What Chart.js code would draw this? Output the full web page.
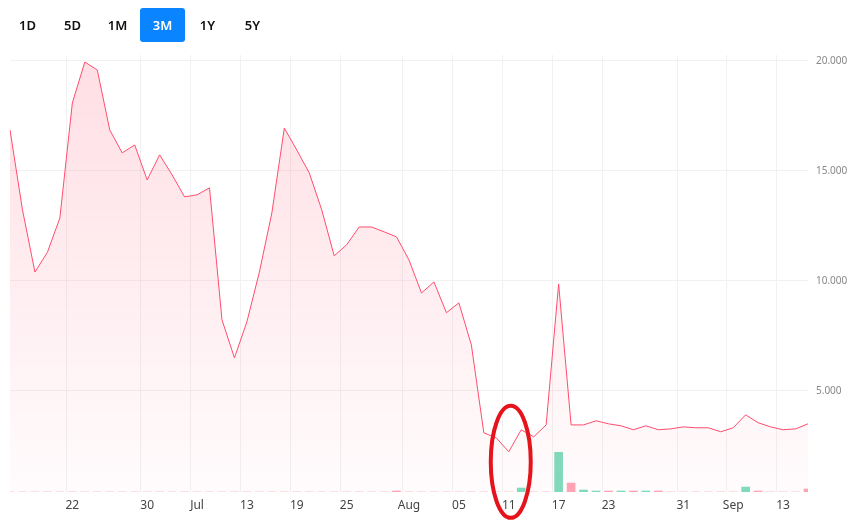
<!DOCTYPE html>
<html>
<head>
<meta charset="utf-8">
<script src="https://cdn.jsdelivr.net/npm/chart.js@4"></script>
<style>
  body { margin: 0; width: 868px; height: 520px; background: #fff; font-family: "Noto Sans", sans-serif; position: relative; overflow: hidden; }
  .ranges { position: absolute; left: 5px; top: 8px; display: flex; z-index: 2; }
  .ranges span { width: 45px; height: 34px; line-height: 34px; text-align: center; font-size: 13px; font-weight: 600; color: #111; border-radius: 3px; }
  .ranges span.on { background: #0a84ff; color: #fff; }
  #wrap { position: absolute; left: 0; top: 0; width: 868px; height: 520px; }
</style>
</head>
<body>
<div class="ranges"><span>1D</span><span>5D</span><span>1M</span><span class="on">3M</span><span>1Y</span><span>5Y</span></div>
<div id="wrap"><canvas id="chart"></canvas></div>
<script>
  // one entry per trading day, label only where an axis tick is shown
  const labels = ['', '', '', '', '', '22', '', '', '', '', '', '30', '', '', '', 'Jul', '', '', '', '13', '', '', '', '19', '', '', '', '25', '', '', '', '', 'Aug', '', '', '', '05', '', '', '', '11', '', '', '', '17', '', '', '', '23', '', '', '', '', '', '31', '', '', '', 'Sep', '', '', '', '13', '', ''];
  const prices = [16860, 13230, 10400, 11300, 12860, 18090, 19950, 19590, 16860, 15820, 16180, 14590, 15730, 14820, 13820, 13910, 14230, 8230, 6500, 8140, 10400, 13090, 16950, 15950, 14910, 13230, 11140, 11640, 12450, 12450, 12230, 12000, 10950, 9450, 9950, 8550, 9000, 7090, 3090, 2860, 2230, 3230, 2910, 3450, 9860, 3450, 3450, 3640, 3500, 3410, 3230, 3410, 3230, 3270, 3360, 3320, 3320, 3140, 3320, 3910, 3550, 3360, 3230, 3270, 3500];
  const volumes = [0, 0, 0, 0, 0, 0, 0, 0, 0, 0, 0, 0, 0, 0, 0, 0, 0, 0, 0, 0, 0, 0, 0, 0, 0, 0, 0, 0, 0, 0, 0, 1, 0, 0, 0, 0, 0, 0, 0, 0, 0, 4, 0, 0, 40, 9, 2, 1, 1, 1, 1, 1, 1, 0, 0, 0, 0, 0, 0, 5, 1, 0, 0, 0, 3];
  const volumeUp = [false, false, false, false, false, false, false, false, false, false, false, false, false, false, false, false, false, false, false, false, false, false, false, false, false, false, false, false, false, false, false, false, false, false, false, false, false, false, false, false, false, true, false, false, true, false, true, true, false, true, false, true, false, false, false, false, false, false, false, true, false, false, false, false, false];
  const priceTicks = [5000, 10000, 15000, 20000];
  const circledIndex = 40;

  const circleMark = {
    id: 'circleMark',
    afterDatasetsDraw(chart) {
      const { ctx, scales } = chart;
      const cx = scales.x.getPixelForValue(circledIndex) + 2;
      const cy = scales.y.getPixelForValue(1770);
      ctx.save();
      ctx.strokeStyle = '#e5141c';
      ctx.lineWidth = 4;
      ctx.beginPath();
      ctx.ellipse(cx, cy, 20, 56, 0, 0, Math.PI * 2);
      ctx.stroke();
      ctx.restore();
    }
  };

  const ctx = document.getElementById('chart');
  new Chart(ctx, {
    data: {
      labels,
      datasets: [{
        type: 'line',
        data: prices,
        yAxisID: 'y',
        borderColor: '#ff4d6d',
        borderWidth: 1,
        pointRadius: 0,
        tension: 0,
        fill: 'start',
        backgroundColor: (c) => {
          const area = c.chart.chartArea;
          if (!area) return 'rgba(255,90,120,0.15)';
          const g = c.chart.ctx.createLinearGradient(0, area.top, 0, area.bottom);
          g.addColorStop(0, 'rgba(255,90,120,0.2)');
          g.addColorStop(1, 'rgba(255,90,120,0.02)');
          return g;
        },
        order: 1,
      }, {
        type: 'bar',
        data: volumes,
        yAxisID: 'v',
        backgroundColor: volumeUp.map((u) => (u ? '#7ddcbd' : '#ffa5b4')),
        barThickness: 8,
        order: 2,
      }],
    },
    options: {
      responsive: true,
      maintainAspectRatio: false,
      animation: false,
      layout: { padding: { top: 55, left: 10, right: 0, bottom: 0 } },
      plugins: { legend: { display: false }, tooltip: { enabled: false } },
      scales: {
        x: {
          offset: false,
          grid: { color: (c) => (labels[c.index] ? '#f1f1f1' : 'transparent'), drawTicks: false },
          border: { display: false },
          ticks: { autoSkip: false, maxRotation: 0, padding: 6, color: '#444', font: { size: 12, family: 'Noto Sans' } },
          afterFit: (a) => { a.height = 28; },
        },
        y: {
          position: 'right',
          min: 400,
          max: 20270,
          afterBuildTicks: (a) => { a.ticks = priceTicks.map((v) => ({ value: v })); },
          grid: { color: '#f1f1f1', drawTicks: false },
          border: { display: false },
          ticks: { padding: 8, color: '#888', font: { size: 10, family: 'Noto Sans' }, callback: (v) => v.toLocaleString('de-DE', { minimumFractionDigits: 3 }).replace(',000', '') },
          afterFit: (a) => { a.width = 60; },
        },
        v: { display: false, min: 0, max: 440 },
      },
    },
    plugins: [circleMark],
  });
</script>
</body>
</html>
